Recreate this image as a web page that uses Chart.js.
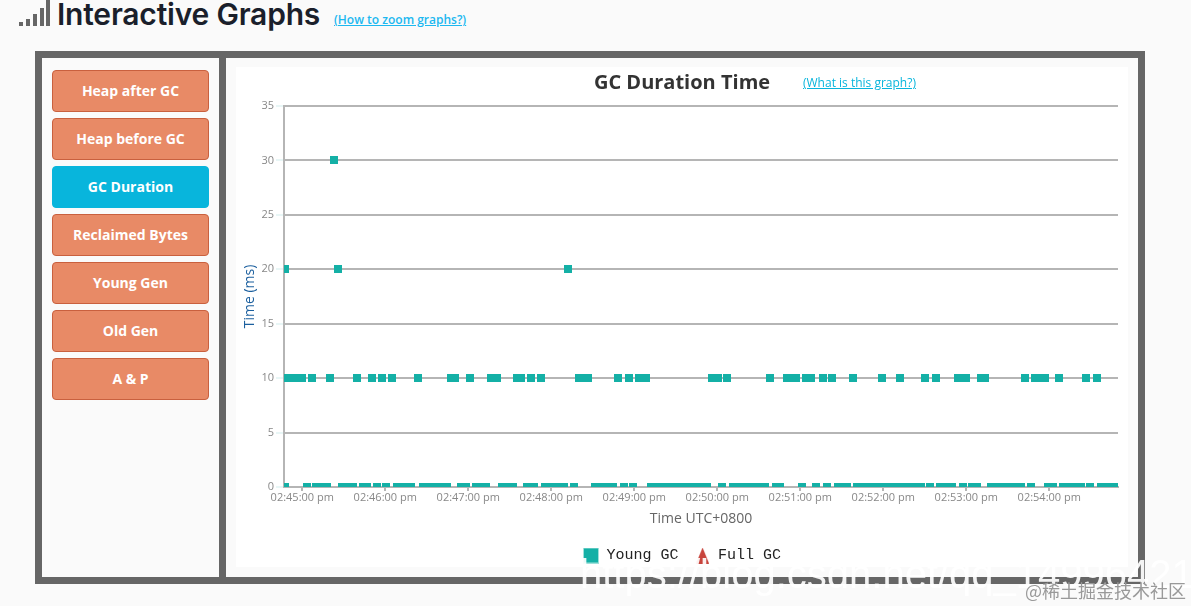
<!DOCTYPE html>
<html>
<head>
<meta charset="utf-8">
<title>Interactive Graphs</title>
<script src="https://cdn.jsdelivr.net/npm/chart.js@4"></script>
<style>
    html, body { margin: 0; padding: 0; width: 1191px; height: 606px; overflow: hidden; background: #fafafa; font-family: "Open Sans", sans-serif; }
    .icone { position: absolute; left: 19px; top: 0; width: 32px; height: 26px; }
    .icone i { position: absolute; bottom: 0; width: 4px; background: #666; }
    h1 { position: absolute; left: 57px; top: -4px; margin: 0; font: 600 30px Inter, sans-serif; color: #1a1f2b; white-space: nowrap; letter-spacing: -0.2px; }
    a { position: absolute; white-space: nowrap; text-decoration: underline; }
    #linkZoom { left: 334px; top: 11px; font: 600 12px "Open Sans", sans-serif; color: #1cb8f0; }
    #linkGrafico { left: 803px; top: 74px; font: 12px "Open Sans", sans-serif; color: #08b5dc; z-index: 2; }
    #caixa { position: absolute; left: 35px; top: 51px; width: 1096px; height: 519px; border: 7px solid #666; }
    #divisor { position: absolute; left: 177px; top: 0; width: 7px; height: 519px; background: #666; }
    .botao { position: absolute; left: 52px; width: 155px; height: 40px; border: 1px solid #c9603e; border-radius: 4px; background: #e88a66; color: #fff; font: 700 14px/40px "Open Sans", sans-serif; text-align: center; }
    .botao.ativo { background: #08b5dc; border-color: #08b5dc; }
    #areaGrafico { position: absolute; left: 236px; top: 67px; width: 892px; height: 500px; background: #fff; }
    #graficoDuracao { position: absolute; left: 0; top: 0; }
    #marcaBlog { position: absolute; left: 580px; top: 552px; font: 40px "Liberation Sans", sans-serif; color: #fff; white-space: nowrap; opacity: 0.92; }
    #marcaJuejin { position: absolute; left: 1025px; top: 577px; font: 18px "Noto Sans CJK SC", sans-serif; color: #999; white-space: nowrap; }
</style>
</head>
<body>
    <div class="icone"><i style="left:0;height:4px"></i><i style="left:7px;height:7px"></i><i style="left:14px;height:12px"></i><i style="left:21px;height:18px"></i><i style="left:27px;height:26px"></i></div>
    <h1>Interactive Graphs</h1>
    <a id="linkZoom">(How to zoom graphs?)</a>
    <div id="caixa"><div id="divisor"></div></div>
    <div id="botoes"></div>
    <div id="areaGrafico"><canvas id="graficoDuracao" width="892" height="506"></canvas></div>
    <a id="linkGrafico">(What is this graph?)</a>
    <div id="marcaBlog">https://blog.csdn.net/qq_14996421</div>
    <div id="marcaJuejin">@稀土掘金技术社区</div>

<script>
// botoes do menu lateral
const botoes = ["Heap after GC", "Heap before GC", "GC Duration", "Reclaimed Bytes", "Young Gen", "Old Gen", "A & P"];
const botaoAtivo = "GC Duration";

// segundos depois de 02:45:00
const tempos20ms = [-12.5, 25.8, 192.1];
const tempos30ms = [22.9];
const tempos10ms = [-11.8, -8.9, -6, -3.1, -0.2, 7, 20, 39.5, 50.4, 57.6, 64.9, 83.7, 107.5, 110.4, 121.3, 136.4, 140.8,
    155.2, 158.1, 165.4, 172.6, 200, 203.7, 206.6, 228.3, 236.2, 243.4, 245.6, 248.5, 296.2, 300.6, 307.1, 338.2, 350.5,
    354.1, 357, 364.2, 367.9, 376.5, 383, 398.2, 419.2, 432.2, 450.2, 458.2, 474.1, 477, 479.9, 490.7, 493.6, 522.5,
    529.8, 533.4, 537, 547.1, 566.7, 574.6];
const tempos0ms = [-12.5, 3.4, 9.9, 13.5, 17.9, 28.7, 32.3, 36.7, 43.9, 46.8, 54, 60.5, 68.5, 72.8, 76.4, 78.6, 87.3, 91.6,
    95.9, 100.3, 104.6, 114.7, 118.3, 125.6, 129.2, 132.8, 144.4, 148, 152.4, 162.5, 167.5, 175.5, 179.8, 184.2, 189.2,
    196.4, 211.6, 215.9, 220.3, 224.6, 232.6, 239.1, 252.1, 256.5, 260.8, 265.2, 269.5, 273.8, 278.2, 282.5, 286.8, 292.6,
    303.4, 311.4, 315.7, 320.1, 324.4, 328.7, 334.5, 342.5, 345.4, 361.3, 371.4, 379.4, 387.3, 391, 393.8, 401, 405.4,
    409.7, 414, 418.4, 422.7, 427.1, 431.4, 435.7, 440.1, 444.4, 447.3, 453.8, 461, 465.4, 469.7, 477.7, 484.2, 487.8,
    497.9, 502.3, 506.6, 510.9, 515.3, 519.6, 526.8, 539.1, 542.7, 549.9, 554.3, 558.6, 563, 569.5, 577.4, 581.8, 586.1, 589.7];

const xTicks = [0, 60, 120, 180, 240, 300, 360, 420, 480, 540];
const xTickLabels = ["02:45:00 pm", "02:46:00 pm", "02:47:00 pm", "02:48:00 pm", "02:49:00 pm",
    "02:50:00 pm", "02:51:00 pm", "02:52:00 pm", "02:53:00 pm", "02:54:00 pm"];
const yTicks = [0, 5, 10, 15, 20, 25, 30, 35];

// ---- MENU ----
botoes.forEach((nome, i) => {
    const div = document.createElement("div");
    div.className = nome === botaoAtivo ? "botao ativo" : "botao";
    div.style.top = (70 + i * 48) + "px";
    div.textContent = nome;
    document.getElementById("botoes").appendChild(div);
});

// ---- MARCADORES ----
// canvas em vez de "rect": as bordas nao ficam serrilhadas onde os pontos se sobrepoem
function criarQuadrado(lado, cor, corBorda) {
    const c = document.createElement("canvas");
    c.width = lado;
    c.height = lado;
    const ctx = c.getContext("2d");
    ctx.fillStyle = corBorda || cor;
    ctx.fillRect(0, 0, lado, lado);
    ctx.fillStyle = cor;
    if (corBorda) ctx.fillRect(1, 1, lado - 2, lado - 2);
    return c;
}

function criarTriangulo(largura, altura, cor) {
    const c = document.createElement("canvas");
    c.width = largura;
    c.height = altura;
    const ctx = c.getContext("2d");
    ctx.fillStyle = cor;
    ctx.beginPath();
    ctx.moveTo(largura / 2, 0);
    ctx.lineTo(largura, altura);
    ctx.lineTo(0, altura);
    ctx.closePath();
    ctx.fill();
    return c;
}

const marcadorYoung = criarQuadrado(8, "#14b0a6");
const legendaYoung = criarQuadrado(16, "#14b0a6", "#9fe0da");
const legendaFull = criarTriangulo(13, 16, "#c8443c");

// ---- GRAFICO ----
const pontosYoung = [
    ...tempos0ms.map(t => ({ x: t, y: 0 })),
    ...tempos10ms.map(t => ({ x: t, y: 10 })),
    ...tempos20ms.map(t => ({ x: t, y: 20 })),
    ...tempos30ms.map(t => ({ x: t, y: 30 }))
];

const corGrade = "#b5b5b5";

new Chart(document.getElementById("graficoDuracao"), {
    type: "scatter",
    data: {
        datasets: [
            {
                label: "Young GC",
                data: pontosYoung,
                pointStyle: marcadorYoung,
                pointRadius: 4,
                pointBorderWidth: 0,
                backgroundColor: "#14b0a6",
                clip: 0
            },
            {
                label: "Full GC",
                data: [],
                pointStyle: legendaFull,
                backgroundColor: "#c8443c"
            }
        ]
    },
    options: {
        responsive: false,
        animation: false,
        layout: { padding: { left: 6, right: 10, top: 0, bottom: 0 } },
        plugins: {
            title: {
                display: true,
                text: "GC Duration Time",
                color: "#333",
                font: { family: "Open Sans", size: 20, weight: "bold" },
                padding: { top: 4, bottom: 11 }
            },
            legend: {
                position: "bottom",
                labels: {
                    usePointStyle: true,
                    pointStyleWidth: 16,
                    color: "#222",
                    font: { family: "Liberation Mono", size: 15 },
                    padding: 16,
                    generateLabels: grafico => {
                        const itens = Chart.defaults.plugins.legend.labels.generateLabels(grafico);
                        itens[0].pointStyle = legendaYoung;
                        itens[1].pointStyle = legendaFull;
                        return itens;
                    }
                }
            },
            tooltip: { enabled: false }
        },
        scales: {
            x: {
                type: "linear",
                min: -13.2,
                max: 589.7,
                afterBuildTicks: escala => { escala.ticks = xTicks.map(v => ({ value: v })); },
                grid: { drawOnChartArea: false, drawTicks: true, tickLength: 4, color: corGrade, lineWidth: 2 },
                border: { color: corGrade, width: 2 },
                ticks: {
                    autoSkip: false,
                    maxRotation: 0,
                    padding: 0,
                    color: "#888",
                    font: { family: "Open Sans", size: 11 },
                    callback: (valor, i) => xTickLabels[i]
                },
                title: {
                    display: true,
                    text: "Time UTC+0800",
                    color: "#666",
                    font: { family: "Open Sans", size: 14 },
                    padding: { top: 6, bottom: 5 }
                }
            },
            y: {
                min: 0,
                max: 35,
                afterBuildTicks: escala => { escala.ticks = yTicks.map(v => ({ value: v })); },
                afterFit: escala => { escala.width = 42; },
                grid: { color: corGrade, lineWidth: 2, tickLength: 8, tickColor: "#e8f6f6" },
                border: { color: corGrade, width: 2 },
                ticks: {
                    padding: 2,
                    color: "#888",
                    font: { family: "Open Sans", size: 11 }
                },
                title: {
                    display: true,
                    text: "Time (ms)",
                    color: "#1b5f9e",
                    font: { family: "Open Sans", size: 14 },
                    padding: 0
                }
            }
        }
    },
    plugins: [{
        // titulo e legenda centrados na area branca inteira
        id: "centrarTitulo",
        afterLayout: grafico => {
            grafico.titleBlock.left = 0;
            grafico.titleBlock.right = 892;
            grafico.legend.left = 0;
            grafico.legend.right = 892;
        },
        beforeDatasetsDraw: grafico => { grafico.ctx.imageSmoothingEnabled = false; }
    }]
});
</script>
</body>
</html>
